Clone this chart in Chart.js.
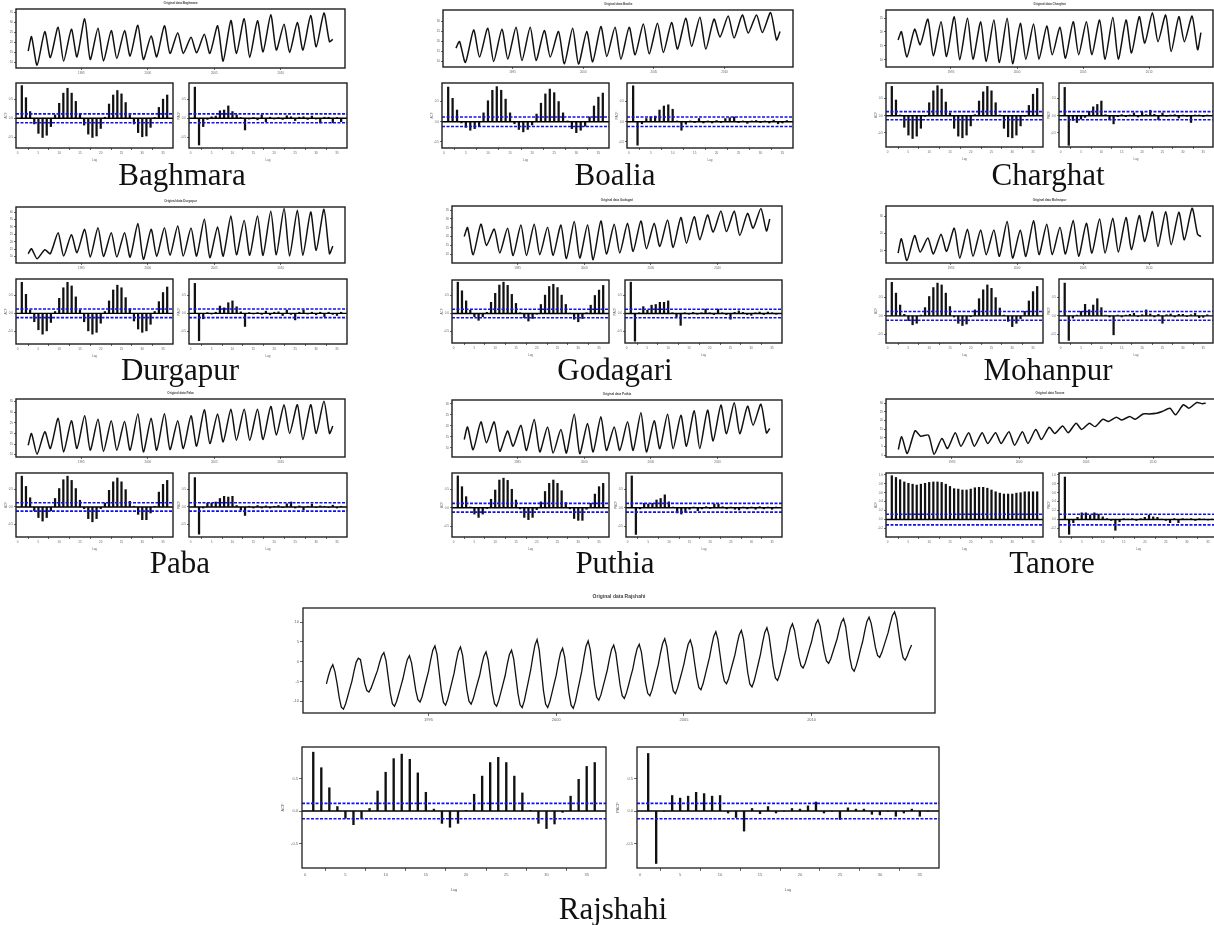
<!DOCTYPE html>
<html>
<head>
<meta charset="utf-8">
<title>Original data, ACF and PACF by upazila</title>
<script src="https://cdn.jsdelivr.net/npm/chart.js@4.4.1/dist/chart.umd.min.js"></script>
<style>
  body { margin: 0; background: #fff; width: 1214px; height: 925px; overflow: hidden; position: relative; }
  .plot { position: absolute; }
  .cap { position: absolute; font-family: 'Liberation Serif', 'Times New Roman', serif; font-size: 31px; line-height: 31px;
         color: #111; transform: translateX(-50%); white-space: nowrap; }
  .ttl { position: absolute; font-family: 'Liberation Sans', Arial, sans-serif; font-weight: bold; color: #444;
         transform: translateX(-50%); white-space: nowrap; }
</style>
</head>
<body>
<script>
// ---- axes shared by every panel ----
const tsYears = [1995, 2000, 2005, 2010];
const lagTicks = [0, 5, 10, 15, 20, 25, 30, 35];
const acfTicks = [-0.5, 0, 0.5];
const tanoreAcfTicks = [-0.2, 0, 0.2, 0.4, 0.6, 0.8, 1];
const tMin = 1990.083, tMax = 2014.833;   // monthly 1991-2013 plus R's 4% margin
const lagMin = -0.4, lagMax = 37.4;
const ciBound = 0.118;                     // 1.96 / sqrt(276)

// ---- Baghmara ----
const baghmaraTicks = [10, 15, 20, 25, 30, 35];
const baghmaraStart = 15.7, baghmaraEnd = 21.5;
const baghmaraPeaks = [22.8, 25.3, 27.5, 26.5, 31.7, 27.0, 25.8, 25.8, 28.5, 23.2, 28.2, 24.8, 22.5, 24.0, 28.2, 30.8, 31.7, 30.7, 33.7, 29.0, 29.8, 33.3, 34.5];
const baghmaraTroughs = [8.7, 12.5, 10.7, 12.8, 11.5, 10.8, 12.0, 13.2, 11.5, 12.8, 14.5, 14.5, 14.8, 14.5, 10.7, 14.5, 12.5, 15.3, 16.2, 15.0, 16.2, 17.8, 20.3];
const baghmaraAcf = [0.87, 0.55, 0.18, -0.15, -0.40, -0.51, -0.45, -0.22, 0.09, 0.40, 0.67, 0.80, 0.67, 0.45, 0.12, -0.18, -0.42, -0.51, -0.47, -0.27, 0.03, 0.38, 0.62, 0.74, 0.65, 0.42, 0.09, -0.15, -0.38, -0.49, -0.47, -0.24, 0.02, 0.29, 0.51, 0.62];
const baghmaraPacf = [0.83, -0.71, -0.22, -0.03, 0.04, 0.06, 0.20, 0.22, 0.33, 0.18, 0.09, 0.02, -0.31, -0.02, 0.02, -0.04, 0.09, -0.09, 0.03, -0.02, 0.02, -0.03, 0.07, 0.04, -0.06, 0.03, 0.04, -0.03, 0.06, -0.02, -0.12, 0.03, 0.03, -0.12, 0.02, -0.09];

// ---- Boalia ----
const boaliaTicks = [10, 15, 20, 25, 30];
const boaliaStart = 16.7, boaliaEnd = 25.0;
const boaliaPeaks = [20.0, 25.8, 26.7, 26.2, 27.2, 27.2, 25.5, 25.0, 26.7, 25.0, 27.5, 27.2, 27.2, 28.8, 29.2, 29.5, 31.7, 32.2, 31.2, 32.8, 33.3, 33.3, 34.5];
const boaliaTroughs = [9.5, 12.2, 10.0, 11.2, 10.5, 10.5, 12.2, 8.8, 8.7, 9.8, 12.5, 11.2, 13.3, 13.8, 14.5, 16.2, 17.5, 16.2, 22.2, 21.7, 24.2, 24.5, 20.8];
const boaliaAcf = [0.86, 0.58, 0.29, -0.03, -0.14, -0.21, -0.17, -0.12, 0.22, 0.52, 0.78, 0.87, 0.78, 0.56, 0.22, -0.05, -0.19, -0.25, -0.19, -0.08, 0.19, 0.46, 0.69, 0.81, 0.72, 0.50, 0.22, 0.02, -0.17, -0.27, -0.21, -0.11, 0.12, 0.39, 0.61, 0.71];
const boaliaPacf = [0.89, -0.58, -0.05, 0.08, 0.12, 0.14, 0.29, 0.39, 0.42, 0.31, 0.02, -0.21, -0.06, 0.02, -0.02, 0.08, -0.03, 0.02, -0.03, 0.03, -0.02, 0.08, 0.10, 0.12, -0.02, 0.02, -0.04, 0.02, 0.03, -0.02, 0.02, -0.03, 0.04, -0.05, -0.03, 0.03];

// ---- Charghat ----
const charghatTicks = [10, 15, 20, 25];
const charghatStart = 17.1, charghatEnd = 19.8;
const charghatPeaks = [20.1, 21.0, 24.6, 23.7, 25.5, 24.9, 23.7, 24.3, 24.9, 23.1, 22.9, 22.1, 21.7, 23.7, 23.7, 24.3, 25.2, 24.3, 25.5, 26.9, 26.1, 25.5, 25.7];
const charghatTroughs = [11.0, 15.4, 11.4, 11.2, 10.0, 10.2, 9.4, 9.0, 8.6, 10.2, 10.2, 11.8, 10.6, 11.8, 11.8, 10.2, 10.2, 12.4, 16.0, 16.5, 13.0, 16.5, 13.6];
const charghatAcf = [0.86, 0.46, 0.02, -0.34, -0.57, -0.67, -0.60, -0.37, -0.02, 0.38, 0.73, 0.88, 0.78, 0.40, 0.08, -0.37, -0.60, -0.65, -0.57, -0.30, 0.03, 0.43, 0.70, 0.86, 0.73, 0.38, 0.02, -0.37, -0.62, -0.65, -0.57, -0.30, -0.02, 0.30, 0.63, 0.80];
const charghatPacf = [0.83, -0.87, -0.14, -0.20, -0.10, -0.05, 0.13, 0.26, 0.33, 0.43, 0.03, -0.12, -0.24, -0.03, 0.03, -0.03, 0.02, 0.08, -0.04, 0.10, 0.03, 0.16, 0.04, -0.12, 0.08, -0.02, 0.02, 0.03, -0.07, 0.02, -0.02, -0.20, 0.02, 0.02, -0.03, 0.02];

// ---- Durgapur ----
const durgapurTicks = [10, 15, 20, 25, 30, 35, 40];
const durgapurStart = 11.8, durgapurEnd = 17.0;
const durgapurPeaks = [15.2, 14.5, 26.1, 24.8, 28.4, 29.5, 26.1, 26.1, 32.3, 28.4, 29.5, 30.7, 29.3, 35.2, 30.0, 37.5, 34.5, 37.5, 40.7, 42.5, 41.4, 40.2, 42.0];
const durgapurTroughs = [8.4, 11.8, 10.2, 12.5, 9.5, 10.0, 9.5, 9.5, 8.0, 10.0, 10.7, 10.2, 10.2, 9.1, 10.2, 11.1, 10.7, 10.7, 11.1, 10.2, 10.7, 14.1, 11.8];
const durgapurAcf = [0.85, 0.52, 0.09, -0.23, -0.45, -0.57, -0.48, -0.25, 0.05, 0.41, 0.70, 0.85, 0.75, 0.45, 0.09, -0.23, -0.48, -0.57, -0.52, -0.27, 0.05, 0.34, 0.64, 0.77, 0.70, 0.43, 0.12, -0.21, -0.43, -0.52, -0.48, -0.30, 0.05, 0.32, 0.57, 0.72];
const durgapurPacf = [0.82, -0.75, -0.15, 0.02, -0.02, 0.03, 0.20, 0.15, 0.29, 0.34, 0.18, 0.04, -0.36, 0.02, -0.02, 0.02, -0.03, 0.06, -0.04, 0.03, 0.04, -0.06, 0.09, -0.03, -0.18, 0.03, 0.09, -0.02, 0.03, -0.04, 0.03, -0.09, 0.03, -0.03, -0.06, 0.03];

// ---- Godagari ----
const godagariTicks = [10, 15, 20, 25, 30, 35];
const godagariStart = 20.0, godagariEnd = 30.0;
const godagariPeaks = [25.1, 27.0, 24.2, 24.7, 26.6, 27.0, 25.3, 26.6, 28.5, 26.6, 28.9, 27.0, 27.5, 28.9, 27.5, 29.4, 30.8, 31.3, 32.3, 34.5, 34.5, 33.2, 36.0];
const godagariTroughs = [9.6, 14.9, 10.6, 9.2, 9.2, 9.6, 9.2, 7.4, 7.7, 6.8, 10.0, 10.6, 11.5, 13.0, 14.3, 13.8, 16.2, 18.1, 22.5, 22.8, 20.6, 24.7, 23.2];
const godagariAcf = [0.87, 0.63, 0.35, 0.09, -0.09, -0.19, -0.09, 0.03, 0.31, 0.56, 0.79, 0.87, 0.78, 0.53, 0.28, 0.02, -0.12, -0.21, -0.14, -0.02, 0.25, 0.51, 0.75, 0.81, 0.72, 0.51, 0.25, 0.01, -0.16, -0.23, -0.14, 0.02, 0.23, 0.50, 0.65, 0.78];
const godagariPacf = [0.87, -0.77, 0.02, 0.19, 0.09, 0.23, 0.25, 0.31, 0.31, 0.35, 0.02, -0.09, -0.33, 0.02, -0.02, 0.03, -0.02, 0.02, 0.12, 0.02, -0.03, 0.12, 0.02, -0.03, -0.16, 0.03, 0.07, 0.03, -0.03, -0.05, 0.02, 0.04, -0.03, 0.04, 0.02, -0.02];

// ---- Mohanpur ----
const mohanpurTicks = [10, 20, 30];
const mohanpurStart = 8.6, mohanpurEnd = 18.3;
const mohanpurPeaks = [17.0, 18.9, 17.4, 19.7, 23.2, 22.6, 22.2, 22.2, 27.1, 22.2, 27.5, 25.5, 23.8, 27.7, 26.1, 28.6, 29.0, 29.4, 30.6, 32.9, 32.9, 32.5, 34.9];
const mohanpurTroughs = [4.2, 9.2, 8.1, 9.6, 5.7, 6.7, 7.7, 6.7, 5.7, 6.7, 7.7, 7.7, 8.1, 6.7, 8.6, 8.6, 9.2, 10.6, 15.4, 12.5, 13.5, 16.4, 19.7];
const mohanpurAcf = [0.90, 0.61, 0.29, 0.04, -0.13, -0.24, -0.20, 0.02, 0.22, 0.52, 0.76, 0.88, 0.83, 0.61, 0.25, -0.03, -0.20, -0.26, -0.22, -0.02, 0.16, 0.46, 0.70, 0.83, 0.74, 0.49, 0.21, 0.02, -0.15, -0.29, -0.20, -0.08, 0.12, 0.40, 0.65, 0.79];
const mohanpurPacf = [0.88, -0.66, -0.06, 0.02, 0.12, 0.31, 0.16, 0.29, 0.46, 0.22, 0.02, -0.03, -0.51, 0.02, -0.03, 0.02, 0.04, 0.07, -0.02, 0.03, 0.16, 0.05, -0.03, 0.04, -0.20, 0.03, 0.05, -0.03, 0.04, 0.04, -0.02, 0.03, 0.07, -0.05, -0.04, 0.03];

// ---- Paba ----
const pabaTicks = [10, 15, 20, 25, 30, 35];
const pabaStart = 14.4, pabaEnd = 23.5;
const pabaPeaks = [20.0, 20.8, 27.1, 26.0, 28.3, 26.7, 26.0, 25.6, 29.2, 27.1, 29.2, 26.0, 28.3, 31.1, 29.2, 31.4, 31.4, 31.4, 32.7, 33.5, 33.5, 33.5, 35.1];
const pabaTroughs = [10.2, 12.9, 11.3, 12.9, 12.1, 11.6, 12.1, 12.1, 11.3, 12.1, 12.4, 12.9, 14.0, 15.2, 16.0, 16.8, 16.8, 17.1, 19.2, 20.0, 17.1, 20.0, 20.0];
const pabaAcf = [0.87, 0.58, 0.26, -0.11, -0.30, -0.40, -0.30, -0.11, 0.24, 0.52, 0.77, 0.87, 0.75, 0.52, 0.19, -0.05, -0.33, -0.42, -0.33, -0.05, 0.11, 0.47, 0.71, 0.82, 0.71, 0.49, 0.16, 0.02, -0.21, -0.36, -0.36, -0.17, 0.02, 0.42, 0.64, 0.75];
const pabaPacf = [0.83, -0.77, -0.03, 0.11, 0.11, 0.14, 0.24, 0.30, 0.28, 0.30, 0.04, -0.09, -0.24, 0.02, -0.03, 0.04, -0.03, 0.03, -0.03, 0.02, 0.04, -0.02, 0.09, 0.14, -0.03, 0.03, -0.08, 0.02, 0.08, -0.02, 0.03, 0.02, -0.02, 0.05, -0.03, 0.02];

// ---- Puthia ----
const puthiaTicks = [10, 15, 20, 25, 30];
const puthiaStart = 13.8, puthiaEnd = 18.8;
const puthiaPeaks = [19.5, 21.8, 21.8, 17.7, 20.3, 22.9, 19.5, 18.3, 25.3, 21.1, 24.1, 19.5, 21.8, 25.9, 22.3, 25.3, 24.8, 26.8, 27.1, 29.4, 30.5, 28.9, 29.8];
const puthiaTroughs = [9.2, 12.3, 8.5, 10.8, 8.9, 8.2, 7.7, 7.7, 7.4, 8.2, 8.9, 8.9, 8.9, 8.2, 9.7, 9.7, 10.8, 9.7, 13.2, 16.4, 16.4, 20.3, 16.8];
const puthiaAcf = [0.86, 0.57, 0.30, 0.02, -0.17, -0.26, -0.17, -0.02, 0.23, 0.48, 0.75, 0.80, 0.74, 0.50, 0.21, -0.03, -0.26, -0.32, -0.26, -0.05, 0.16, 0.44, 0.66, 0.75, 0.66, 0.46, 0.14, -0.03, -0.29, -0.34, -0.34, -0.04, 0.12, 0.37, 0.57, 0.66];
const puthiaPacf = [0.86, -0.72, -0.03, 0.12, 0.10, 0.12, 0.21, 0.25, 0.35, 0.16, 0.02, -0.14, -0.17, -0.11, -0.04, 0.02, -0.08, -0.03, 0.03, -0.02, 0.10, 0.10, 0.03, -0.03, 0.02, -0.04, -0.06, 0.02, -0.03, 0.02, -0.04, 0.03, -0.03, 0.02, -0.04, 0.02];

// ---- Tanore ----
const tanoreTicks = [0, 5, 10, 15, 20, 25, 30];
const tanoreStart = 3.3, tanoreEnd = 30.0;
const tanorePeaks = [10.7, 14.1, 11.6, 9.7, 13.0, 13.0, 13.0, 13.0, 13.6, 13.6, 14.9, 16.1, 16.9, 18.4, 18.4, 20.7, 21.9, 22.3, 23.8, 24.2, 27.1, 29.1, 30.4];
const tanoreTroughs = [1.0, 11.0, 0.6, 3.9, 5.2, 5.2, 6.8, 6.8, 5.8, 6.8, 9.1, 12.6, 13.0, 14.9, 16.5, 19.4, 20.3, 20.7, 23.8, 25.2, 23.3, 27.1, 29.7];
const tanoreAcf = [0.98, 0.94, 0.89, 0.84, 0.81, 0.79, 0.77, 0.79, 0.81, 0.83, 0.84, 0.84, 0.83, 0.79, 0.74, 0.69, 0.68, 0.66, 0.66, 0.68, 0.71, 0.72, 0.72, 0.70, 0.66, 0.62, 0.59, 0.57, 0.57, 0.57, 0.59, 0.60, 0.62, 0.62, 0.62, 0.62];
const tanorePacf = [0.95, -0.33, -0.07, 0.05, 0.15, 0.15, 0.10, 0.15, 0.12, 0.06, 0.02, -0.02, -0.24, -0.05, 0.02, 0.01, 0.02, -0.02, 0.02, 0.05, 0.10, 0.06, 0.05, 0.01, -0.02, -0.07, 0.02, -0.07, 0.02, 0.01, 0.02, -0.02, 0.02, 0.01, -0.01, 0.01];

// ---- Rajshahi, monthly Jan 1991 - Dec 2013 ----
const rajshahiTicks = [-10, -5, 0, 5, 10];
const rajshahi = [
  -5.6, -3.5, -1.8, -0.75, -2.5, -5.5, -9.0, -11.5, -12.0, -10.7, -8.8, -6.8,
  -4.9, -2.3, -0.1, 0.9, 0.5, -2.5, -5.5, -7.3, -7.7, -6.7, -5.2, -3.7,
  -2.2, -0.2, 1.5, 2.3, 0.3, -3.8, -7.9, -10.6, -11.25, -10.0, -8.1, -6.2,
  -4.2, -1.7, 0.5, 1.5, -0.3, -3.8, -7.3, -9.6, -10.2, -8.8, -6.6, -4.5,
  -2.4, 0.45, 2.9, 4.0, 1.8, -2.8, -7.3, -10.3, -11.0, -9.5, -7.3, -5.1,
  -2.9, 0.1, 2.6, 3.75, 1.6, -2.8, -7.1, -10.0, -10.75, -9.4, -7.4, -5.4,
  -3.5, -0.8, 1.4, 2.5, 0.4, -3.7, -7.8, -10.6, -11.25, -9.8, -7.7, -5.6,
  -3.5, -0.6, 1.8, 2.9, 0.7, -3.6, -8.0, -10.9, -11.6, -9.9, -7.3, -4.7,
  -2.1, 1.3, 4.2, 5.6, 3.0, -2.1, -7.3, -10.7, -11.6, -10.1, -7.9, -5.6,
  -3.4, -0.35, 2.2, 3.4, 1.1, -3.4, -8.0, -11.0, -11.8, -10.1, -7.5, -5.0,
  -2.4, 1.0, 3.9, 5.25, 3.0, -1.5, -6.0, -9.0, -9.75, -8.4, -6.3, -4.2,
  -2.1, 0.7, 3.1, 4.2, 2.2, -1.9, -5.9, -8.6, -9.3, -7.9, -5.9, -3.8,
  -1.8, 1.0, 3.3, 4.4, 2.5, -1.5, -5.4, -8.0, -8.6, -7.2, -5.0, -2.8,
  -0.7, 2.2, 4.6, 5.8, 3.7, -0.5, -4.6, -7.4, -8.1, -6.7, -4.7, -2.7,
  -0.6, 2.1, 4.4, 5.5, 3.6, -0.2, -3.9, -6.5, -7.1, -5.6, -3.4, -1.2,
  1.0, 3.9, 6.4, 7.6, 5.6, 1.7, -2.3, -4.9, -5.6, -4.3, -2.2, -0.2,
  1.8, 4.5, 6.8, 7.9, 5.8, 1.5, -2.8, -5.7, -6.4, -4.9, -2.7, -0.4,
  1.9, 4.9, 7.4, 8.6, 6.6, 2.6, -1.4, -4.1, -4.75, -3.3, -1.2, 1.0,
  3.1, 6.0, 8.4, 9.6, 7.9, 4.6, 1.2, -1.0, -1.6, -0.4, 1.45, 3.3,
  5.1, 7.55, 9.6, 10.6, 9.0, 5.6, 2.4, 0.2, -0.4, 0.7, 2.4, 4.1,
  5.8, 8.1, 10.0, 10.9, 8.9, 4.9, 0.9, -1.7, -2.4, -1.0, 1.0, 3.1,
  5.1, 7.8, 10.2, 11.25, 9.7, 6.7, 3.6, 1.6, 1.1, 2.3, 4.0, 5.7,
  7.4, 9.7, 11.7, 12.6, 10.8, 7.1, 3.5, 1.0, 0.4, 1.5, 3.0, 4.2
];
const rajshahiAcf = [0.91, 0.67, 0.36, 0.07, -0.11, -0.21, -0.11, 0.04, 0.31, 0.60, 0.81, 0.88, 0.80, 0.59, 0.29, 0.03, -0.19, -0.25, -0.19, 0.01, 0.26, 0.54, 0.75, 0.83, 0.75, 0.54, 0.28, 0.01, -0.19, -0.27, -0.20, -0.02, 0.23, 0.49, 0.69, 0.75];
const rajshahiPacf = [0.89, -0.81, 0.0, 0.24, 0.20, 0.23, 0.29, 0.27, 0.23, 0.24, -0.03, -0.10, -0.31, 0.04, -0.04, 0.07, -0.03, 0.0, 0.04, 0.03, 0.08, 0.14, -0.03, 0.0, -0.13, 0.05, 0.03, 0.03, -0.05, -0.06, 0.0, -0.08, -0.03, 0.03, -0.08, 0.0];

// ---- page layout: plot boxes [left, top, right, bottom] ----
const panels = [
  { name: 'Baghmara', start: baghmaraStart, end: baghmaraEnd, peaks: baghmaraPeaks, troughs: baghmaraTroughs, ticks: baghmaraTicks, acf: baghmaraAcf, pacf: baghmaraPacf,
    tsRange: [7.3, 36.5], corrRange: [-0.79, 0.94], ts: [16, 9, 345, 68], acfBox: [16, 83, 173, 148], pacfBox: [189, 83, 347, 148], cap: [182, 185] },
  { name: 'Boalia', start: boaliaStart, end: boaliaEnd, peaks: boaliaPeaks, troughs: boaliaTroughs, ticks: boaliaTicks, acf: boaliaAcf, pacf: boaliaPacf,
    tsRange: [7.2, 35.8], corrRange: [-0.65, 0.96], ts: [443, 10, 793, 67], acfBox: [442, 83, 609, 148], pacfBox: [627, 83, 793, 148], cap: [615, 185] },
  { name: 'Charghat', start: charghatStart, end: charghatEnd, peaks: charghatPeaks, troughs: charghatTroughs, ticks: charghatTicks, acf: charghatAcf, pacf: charghatPacf,
    tsRange: [7.4, 27.9], corrRange: [-0.92, 0.96], ts: [886, 10, 1213, 67], acfBox: [886, 83, 1043, 147], pacfBox: [1059, 83, 1213, 147], cap: [1048, 185] },
  { name: 'Durgapur', start: durgapurStart, end: durgapurEnd, peaks: durgapurPeaks, troughs: durgapurTroughs, ticks: durgapurTicks, acf: durgapurAcf, pacf: durgapurPacf,
    tsRange: [5.5, 43.6], corrRange: [-0.84, 0.94], ts: [16, 207, 345, 263], acfBox: [16, 279, 173, 344], pacfBox: [189, 279, 347, 344], cap: [180, 380] },
  { name: 'Godagari', start: godagariStart, end: godagariEnd, peaks: godagariPeaks, troughs: godagariTroughs, ticks: godagariTicks, acf: godagariAcf, pacf: godagariPacf,
    tsRange: [4.9, 37.4], corrRange: [-0.82, 0.93], ts: [452, 206, 782, 263], acfBox: [452, 280, 609, 343], pacfBox: [625, 280, 782, 343], cap: [615, 380] },
  { name: 'Mohanpur', start: mohanpurStart, end: mohanpurEnd, peaks: mohanpurPeaks, troughs: mohanpurTroughs, ticks: mohanpurTicks, acf: mohanpurAcf, pacf: mohanpurPacf,
    tsRange: [2.8, 36.2], corrRange: [-0.73, 0.99], ts: [886, 206, 1213, 263], acfBox: [886, 279, 1043, 343], pacfBox: [1059, 279, 1213, 343], cap: [1048, 380] },
  { name: 'Paba', start: pabaStart, end: pabaEnd, peaks: pabaPeaks, troughs: pabaTroughs, ticks: pabaTicks, acf: pabaAcf, pacf: pabaPacf,
    tsRange: [8.9, 36.2], corrRange: [-0.85, 0.96], ts: [16, 399, 345, 457], acfBox: [16, 473, 173, 537], pacfBox: [189, 473, 347, 537], cap: [180, 573] },
  { name: 'Puthia', start: puthiaStart, end: puthiaEnd, peaks: puthiaPeaks, troughs: puthiaTroughs, ticks: puthiaTicks, acf: puthiaAcf, pacf: puthiaPacf,
    tsRange: [5.9, 31.7], corrRange: [-0.79, 0.94], ts: [452, 400, 782, 457], acfBox: [452, 473, 609, 537], pacfBox: [626, 473, 782, 537], cap: [615, 573] },
  { name: 'Tanore', start: tanoreStart, end: tanoreEnd, peaks: tanorePeaks, troughs: tanoreTroughs, ticks: tanoreTicks, acf: tanoreAcf, pacf: tanorePacf,
    tsRange: [-1.0, 32.4], corrRange: [-0.39, 1.04], corrTicks: tanoreAcfTicks, ts: [886, 399, 1218, 457], acfBox: [886, 473, 1043, 537], pacfBox: [1059, 473, 1218, 537], cap: [1052, 573] }
];

Chart.defaults.font.family = "'Liberation Sans', Arial, sans-serif";

// R-style closed box around the plotting region
Chart.register({
  id: 'frame',
  afterDraw(chart) {
    const { ctx, chartArea: a } = chart;
    ctx.save();
    ctx.strokeStyle = '#1e1e1e';
    ctx.lineWidth = chart.options.frameWidth || 1.4;
    ctx.strokeRect(a.left, a.top, a.right - a.left, a.bottom - a.top);
    ctx.restore();
  }
});

function linScale(min, max, ticks, o) {
  return {
    type: 'linear', min, max, offset: false,
    afterBuildTicks: s => { s.ticks = ticks.map(v => ({ value: v })); },
    afterFit: s => {
      if (o.horizontal) s.height = o.size; else s.width = o.size;
      s.paddingLeft = s.paddingRight = s.paddingTop = s.paddingBottom = 0;
    },
    grid: { drawOnChartArea: false, drawTicks: true, tickLength: o.tick, color: '#444', lineWidth: 0.8 },
    border: { display: false },
    ticks: { autoSkip: false, maxRotation: 0, minRotation: 0, padding: 1, color: '#666',
             font: { size: o.font }, callback: o.fmt },
    title: o.title ? { display: true, text: o.title, padding: 0, color: '#666', font: { size: o.font } } : { display: false }
  };
}

function baseOptions(scales, frameWidth, pad) {
  return {
    responsive: true, maintainAspectRatio: false, animation: false, events: [],
    layout: { padding: { top: pad.top, right: pad.right, left: 0, bottom: 0 } },
    plugins: { legend: { display: false }, tooltip: { enabled: false }, title: { display: false } },
    frameWidth, scales
  };
}

function addChart(rect, padL, padB, config) {
  const [x0, y0, x1, y1] = rect;
  const padT = 3, padR = 3;
  const wrap = document.createElement('div');
  wrap.className = 'plot';
  wrap.style.left = (x0 - padL) + 'px';
  wrap.style.top = (y0 - padT) + 'px';
  wrap.style.width = (x1 - x0 + padL + padR) + 'px';
  wrap.style.height = (y1 - y0 + padT + padB) + 'px';
  const cv = document.createElement('canvas');
  wrap.appendChild(cv);
  document.body.appendChild(wrap);
  config.options = baseOptions(config.scales, config.frameWidth, { top: padT, right: padR });
  return new Chart(cv, { type: config.type, data: config.data, options: config.options });
}

function addText(cls, text, x, y, size) {
  const d = document.createElement('div');
  d.className = cls;
  d.textContent = text;
  d.style.left = x + 'px';
  d.style.top = y + 'px';
  if (size) { d.style.fontSize = size + 'px'; d.style.lineHeight = size + 'px'; }
  document.body.appendChild(d);
}

// one point per seasonal peak (April) and trough (September)
function cycleSeries(start, peaks, troughs, end) {
  const pts = [{ x: 1991, y: start }];
  peaks.forEach((p, k) => {
    pts.push({ x: 1991 + k + 3 / 12, y: p });
    pts.push({ x: 1991 + k + 8 / 12, y: troughs[k] });
  });
  pts.push({ x: 1991 + 275 / 12, y: end });
  return pts;
}

function tsChart(rect, points, range, ticks, big) {
  const padL = big ? 18 : 11, padB = big ? 12 : 9;
  const fs = big ? 4 : 3, tl = big ? 3 : 2;
  addChart(rect, padL, padB, {
    type: 'line',
    frameWidth: big ? 1.3 : 1.4,
    data: { datasets: [{ data: points, borderColor: '#111', borderWidth: big ? 1.3 : 1.5, pointRadius: 0,
                         tension: big ? 0 : 0.22, fill: false }] },
    scales: {
      x: linScale(tMin, tMax, tsYears, { horizontal: true, size: padB, tick: tl, font: fs, fmt: v => String(v) }),
      y: linScale(range[0], range[1], ticks, { size: padL, tick: tl, font: fs, fmt: v => String(v) })
    }
  });
}

function corrChart(rect, values, range, ticks, yTitle, big) {
  const padL = big ? 22 : 12, padB = big ? 24 : 14;
  const fs = big ? 4 : 3, tl = big ? 3 : 2;
  const hline = (y, color, width, dash, order) => ({
    type: 'line', data: [{ x: lagMin, y }, { x: lagMax, y }], borderColor: color, borderWidth: width,
    borderDash: dash, pointRadius: 0, order
  });
  addChart(rect, padL, padB, {
    type: 'bar',
    frameWidth: big ? 1.3 : 1.4,
    data: {
      datasets: [
        hline(0, '#000000', 1.4, [], 0),
        hline(ciBound, '#1010f0', 1.6, [3, 1.5], 1),
        hline(-ciBound, '#1010f0', 1.6, [3, 1.5], 1),
        { type: 'bar', data: values.map((v, i) => ({ x: i + 1, y: v })), backgroundColor: '#111',
          barThickness: big ? 1.7 : 1.6, grouped: false, order: 2 }
      ]
    },
    scales: {
      x: linScale(lagMin, lagMax, lagTicks, { horizontal: true, size: padB, tick: tl, font: fs, fmt: v => String(v), title: 'Lag' }),
      y: linScale(range[0], range[1], ticks, { size: padL, tick: tl, font: fs, fmt: v => v.toFixed(1), title: yTitle })
    }
  });
}

// nine small panels
panels.forEach(p => {
  const pts = cycleSeries(p.start, p.peaks, p.troughs, p.end);
  tsChart(p.ts, pts, p.tsRange, p.ticks, false);
  const ct = p.corrTicks || acfTicks;
  corrChart(p.acfBox, p.acf, p.corrRange, ct, 'ACF', false);
  corrChart(p.pacfBox, p.pacf, p.corrRange, ct, 'PACF', false);
  addText('ttl', 'Original data ' + p.name, (p.ts[0] + Math.min(p.ts[2], 1214)) / 2, p.ts[1] - 7, 3);
  addText('cap', p.name, p.cap[0], p.cap[1] - 26);
});

// Rajshahi, drawn larger underneath
const rajPoints = rajshahi.map((v, i) => ({ x: 1991 + i / 12, y: v }));
tsChart([303, 608, 935, 713], rajPoints, [-12.98, 13.58], rajshahiTicks, true);
corrChart([302, 747, 606, 868], rajshahiAcf, [-0.88, 0.99], acfTicks, 'ACF', true);
corrChart([637, 747, 939, 868], rajshahiPacf, [-0.88, 0.99], acfTicks, 'PACF', true);
addText('ttl', 'Original data Rajshahi', 619, 594, 5);
addText('cap', 'Rajshahi', 613, 919 - 26);
</script>
</body>
</html>
